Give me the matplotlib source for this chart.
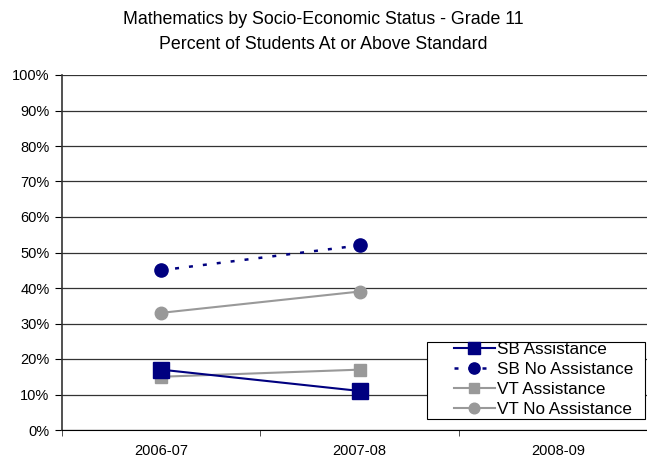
import numpy as np
import matplotlib.pyplot as plt
from matplotlib.patches import Rectangle

plt.rcParams['font.family'] = ['Liberation Sans', 'DejaVu Sans']

years = ["2006-07", "2007-08", "2008-09"]
sb_assist = [17, 11]
sb_no_assist = [45, 52]
vt_assist = [15, 17]
vt_no_assist = [33, 39]

NAVY = "#000080"
GRAY = "#999999"

W, H = 647, 457
fig = plt.figure(figsize=(W / 100, H / 100), dpi=100)
ax = fig.add_axes([62 / W, 27 / H, 595 / W, 355 / H])

x = np.arange(len(sb_assist))
ax.plot(x, sb_assist, color=NAVY, lw=1.5, marker="s", ms=11, label="SB Assistance", zorder=4)
ax.plot(x, sb_no_assist, color=NAVY, lw=1.8, ls=(0, (1.6, 4)), marker="o", ms=9.5, label="SB No Assistance", zorder=4)
ax.plot(x, vt_assist, color=GRAY, lw=1.5, marker="s", ms=9, label="VT Assistance", zorder=3)
ax.plot(x, vt_no_assist, color=GRAY, lw=1.5, marker="o", ms=9, label="VT No Assistance", zorder=3)

ax.set_xlim(-0.5, len(years) - 0.5)
ax.set_ylim(0, 100)
ax.set_yticks(range(0, 101, 10))
ax.set_yticklabels([f"{v}%" for v in range(0, 101, 10)], fontsize=10.5)
ax.set_xticks(range(len(years)))
ax.set_xticklabels(years, fontsize=10.5)
ax.set_xticks(np.arange(-0.5, len(years), 1), minor=True)
ax.tick_params(axis="x", which="major", length=0, pad=10)
ax.tick_params(axis="x", which="minor", length=4, direction="out", color="#333333")
ax.tick_params(axis="y", length=5, direction="out", pad=4)

ax.grid(axis="y", color="#333333", lw=0.9)
ax.set_axisbelow(True)
for s in ["top", "right"]:
    ax.spines[s].set_visible(False)
ax.spines["left"].set_color("#333333")
ax.spines["left"].set_linewidth(1.2)
ax.spines["bottom"].set_color("black")

fig.suptitle("Mathematics by Socio-Economic Status - Grade 11\nPercent of Students At or Above Standard",
             fontsize=12.8, y=0.975, linespacing=1.55)

# legend without frame, box drawn separately (wider left margin like Excel)
leg = ax.legend(loc="lower right", bbox_to_anchor=(637 / W, 37 / H), bbox_transform=fig.transFigure,
                fontsize=12.3, frameon=False, handlelength=2.4, borderpad=0.2,
                labelspacing=0.28, handletextpad=0.15, borderaxespad=0, markerscale=0.85)
leg.set_zorder(6)
box = Rectangle((427 / W, 38 / H), 218 / W, 77 / H, transform=fig.transFigure,
                facecolor="white", edgecolor="black", lw=0.8, zorder=5)
ax.add_patch(box)
box.set_clip_on(False)

fig.savefig("out.png", dpi=100)
